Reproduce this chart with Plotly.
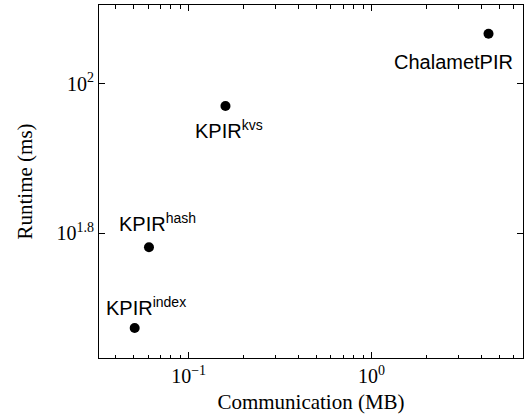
import math
import plotly.graph_objects as go

names = ["ChalametPIR", "KPIR<sup>kvs</sup>", "KPIR<sup>hash</sup>", "KPIR<sup>index</sup>"]
comm_mb = [4.36, 0.159, 0.0607, 0.0507]
runtime_ms = [116.7, 93.4, 60.4, 47.1]
# label placement relative to the point (px)
label_anchor = ["right", "center", "center", "center"]
label_dx = [26, 4, 9, 11]
label_dy = [-28, -24, 25, 21]

x_tickvals = [0.1, 1]
x_ticktext = ["10<sup>−1</sup>", "10<sup>0</sup>"]
x_minor = [0.04, 0.05, 0.06, 0.07, 0.08, 0.09, 0.2, 0.3, 0.4, 0.5, 0.6, 0.7, 0.8, 0.9, 2, 3, 4, 5, 6]
y_tickvals = [10 ** 1.8, 100]
y_ticktext = ["10<sup>1.8</sup>", "10<sup>2</sup>"]

serif = "Liberation Serif"
sans = "Liberation Sans"

fig = go.Figure()
fig.add_trace(go.Scatter(
    x=comm_mb, y=runtime_ms, mode="markers",
    marker=dict(color="black", size=10),
    showlegend=False, hoverinfo="skip",
))

for n, x, y, a, dx, dy in zip(names, comm_mb, runtime_ms, label_anchor, label_dx, label_dy):
    fig.add_annotation(
        x=math.log10(x), y=math.log10(y), text=n, showarrow=False,
        xanchor=a, yanchor="middle",
        xshift=dx, yshift=dy, font=dict(family=sans, size=20, color="black"),
    )

fig.update_layout(
    width=527, height=419,
    margin=dict(l=99, r=4, t=5, b=61),
    plot_bgcolor="white", paper_bgcolor="white",
)
fig.update_xaxes(
    type="log", range=[-1.490, 0.828], automargin=False,
    tickvals=x_tickvals, ticktext=x_ticktext,
    ticks="inside", ticklen=6, tickcolor="black", tickwidth=1,
    minor=dict(tickvals=x_minor, ticks="inside", ticklen=3.5, tickcolor="black", tickwidth=1, showgrid=False),
    showline=True, linecolor="black", linewidth=1, mirror="allticks",
    showgrid=False, zeroline=False,
    tickfont=dict(family=serif, size=20, color="black"),
    title=dict(text="Communication (MB)", font=dict(family=serif, size=21, color="black"), standoff=8),
)
fig.update_yaxes(
    type="log", range=[1.6328, 2.1055], automargin=False,
    tickvals=y_tickvals, ticktext=y_ticktext,
    ticks="inside", ticklen=6, tickcolor="black", tickwidth=1,
    showline=True, linecolor="black", linewidth=1, mirror="allticks",
    showgrid=False, zeroline=False,
    tickfont=dict(family=serif, size=20, color="black"),
    title=dict(text="Runtime (ms)", font=dict(family=serif, size=21, color="black"), standoff=18),
)

fig.write_html("out.html", config={"displayModeBar": False},
               post_script="document.body.style.margin='0';")
